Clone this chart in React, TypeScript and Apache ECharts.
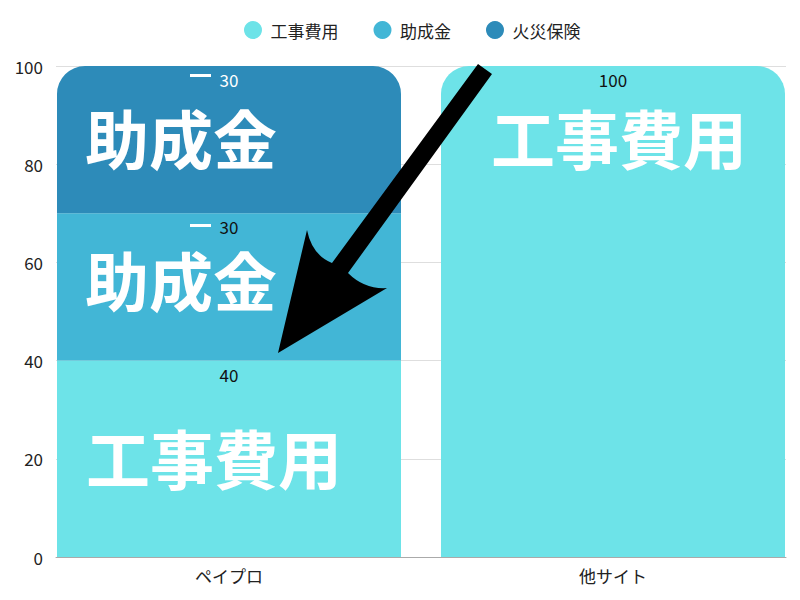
import { useEffect, useRef } from 'react';
import * as echarts from 'echarts';

const categories = ['ペイプロ', '他サイト'];
const legendNames = ['工事費用', '助成金', '火災保険'];
const koujiValues = [40, '-'];
const joseiValues = [30, '-'];
const kasaiValues = [30, '-'];
const otherValues = ['-', 100];
const yTicks = { min: 0, max: 100, interval: 20 };

const COLORS = ['#6de3e8', '#42b6d6', '#2d8bb9'];
const FONT = '"Noto Sans CJK JP", "Noto Sans", sans-serif';

const ARROW_D =
  'M478,64 L492,74 L348,273 Q364.5,289.5 387,288 L278,353 L307,230 Q312,255 332,263 Z';

echarts.graphic.registerShape('arrowShape', echarts.graphic.extendPath(ARROW_D, {}) as any);

const bigText = (text: string, x: number, y: number) => ({
  type: 'text',
  x,
  y,
  z: 50,
  style: {
    text,
    fill: '#fff',
    fontSize: 64,
    fontWeight: 'bold',
    fontFamily: FONT,
    align: 'left',
    verticalAlign: 'middle',
  },
});

export default function App() {
  const chartRef = useRef<HTMLDivElement>(null);

  useEffect(() => {
    if (!chartRef.current) return;
    const chart = echarts.init(chartRef.current, null, { renderer: 'svg' });
    const barCommon = {
      type: 'bar' as const,
      barWidth: 344,
      barGap: '-94.477%',
    };
    const label = (color: string) => ({
      show: true,
      position: 'insideTop' as const,
      distance: 5,
      color,
      fontSize: 17,
      fontFamily: FONT,
    });
    chart.setOption({
      animation: false,
      textStyle: { fontFamily: FONT },
      color: COLORS,
      legend: {
        data: legendNames,
        left: 239,
        top: 16,
        icon: 'circle',
        itemWidth: 25,
        itemHeight: 18,
        itemGap: 35,
        textStyle: { fontSize: 17, color: '#222', fontFamily: FONT },
      },
      grid: { left: 56, right: 14, top: 66, bottom: 43, containLabel: false },
      xAxis: {
        type: 'category',
        data: categories,
        axisLine: { lineStyle: { color: '#aaa' } },
        axisTick: { show: false },
        axisLabel: {
          margin: 10,
          fontSize: 17,
          color: '#222',
          formatter: (v: string, i: number) => (i === 0 ? `{l|${v}}` : `{r|${v}}`),
          rich: {
            l: { padding: [0, 19, 0, 0], fontSize: 17, color: '#222', fontFamily: FONT },
            r: { padding: [0, 0, 0, 19], fontSize: 17, color: '#222', fontFamily: FONT },
          },
        },
      },
      yAxis: {
        type: 'value',
        ...yTicks,
        axisLine: { show: false },
        axisTick: { show: false },
        axisLabel: { fontSize: 17, color: '#222', margin: 13 },
        splitLine: { lineStyle: { color: '#dedede' } },
      },
      series: [
        {
          ...barCommon,
          name: '工事費用',
          stack: 'a',
          data: koujiValues,
          itemStyle: { color: COLORS[0] },
          label: label('#111'),
        },
        {
          ...barCommon,
          name: '助成金',
          stack: 'a',
          data: joseiValues,
          itemStyle: { color: COLORS[1] },
          label: label('#111'),
        },
        {
          ...barCommon,
          name: '火災保険',
          stack: 'a',
          data: kasaiValues,
          itemStyle: { color: COLORS[2], borderRadius: [28, 28, 0, 0] },
          label: label('#fff'),
        },
        {
          ...barCommon,
          name: '工事費用',
          stack: 'b',
          data: otherValues,
          itemStyle: { color: COLORS[0], borderRadius: [28, 28, 0, 0] },
          label: label('#111'),
        },
      ],
      graphic: [
        bigText('助成金', 85, 136),
        bigText('助成金', 85, 278),
        bigText('工事費用', 86, 456),
        bigText('工事費用', 491, 136),
        { type: 'rect', z: 50, shape: { x: 190, y: 74, width: 21, height: 3 }, style: { fill: '#fff' } },
        { type: 'rect', z: 50, shape: { x: 190, y: 224, width: 21, height: 3 }, style: { fill: '#fff' } },
        { type: 'arrowShape', z: 60, x: 0, y: 0, style: { fill: '#000' } },
      ],
    });
    return () => chart.dispose();
  }, []);

  return (
    <div
      ref={chartRef}
      style={{ position: 'fixed', left: 0, top: 0, width: 800, height: 600, background: '#fff' }}
    />
  );
}
